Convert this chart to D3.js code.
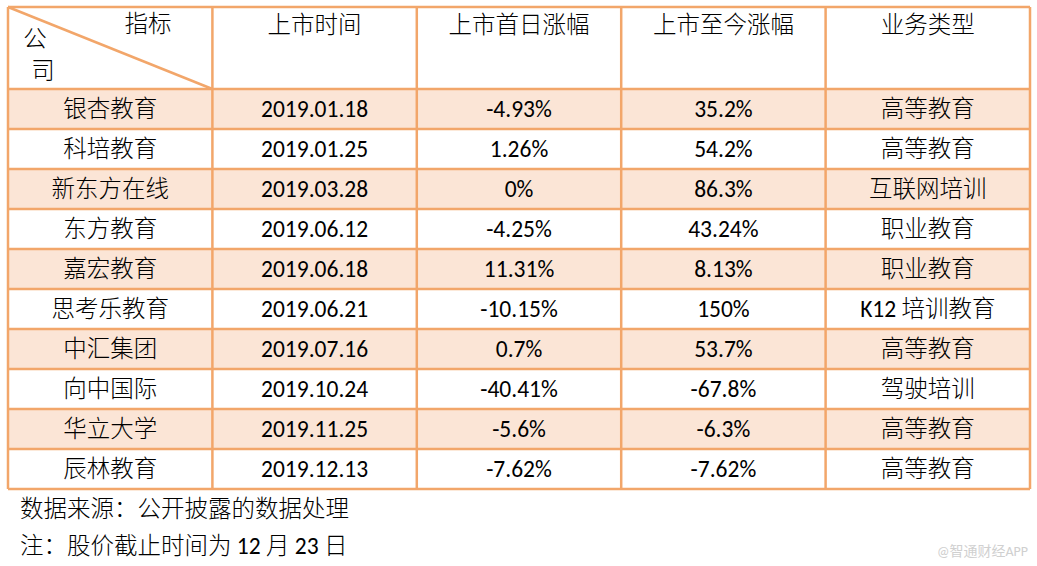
<!DOCTYPE html><html><head><meta charset="utf-8"><script src="https://cdn.jsdelivr.net/npm/d3@7"></script>
<style>body{margin:0;background:#fff}</style></head><body><svg id="c" width="1037" height="566"></svg><script>
const headers=["上市时间","上市首日涨幅","上市至今涨幅","业务类型"];
const companies=["银杏教育","科培教育","新东方在线","东方教育","嘉宏教育","思考乐教育","中汇集团","向中国际","华立大学","辰林教育"];
const dates=["2019.01.18","2019.01.25","2019.03.28","2019.06.12","2019.06.18","2019.06.21","2019.07.16","2019.10.24","2019.11.25","2019.12.13"];
const firstDay=["-4.93%","1.26%","0%","-4.25%","11.31%","-10.15%","0.7%","-40.41%","-5.6%","-7.62%"];
const toDate=["35.2%","54.2%","86.3%","43.24%","8.13%","150%","53.7%","-67.8%","-6.3%","-7.62%"];
const business=["高等教育","高等教育","互联网培训","职业教育","职业教育","K12 培训教育","高等教育","驾驶培训","高等教育","高等教育"];
const notes=["数据来源：公开披露的数据处理","注：股价截止时间为 12 月 23 日"];
const svg=d3.select("#c");
const font="Carlito, 'Noto Sans CJK SC', sans-serif";
const x=d3.scaleLinear().domain([0,5]).range([8,1030]);
const y=d3.scaleLinear().domain([0,10]).range([89,489]);
const border="#f2a66a";
const rows=companies.map((c,i)=>[c,dates[i],firstDay[i],toDate[i],business[i]]);
svg.selectAll("rect.r").data(rows).join("rect").attr("x",x(0)).attr("width",x(5)-x(0))
 .attr("y",(d,i)=>y(i)).attr("height",y(1)-y(0)).attr("fill",(d,i)=>i%2==0?"#fbe5d6":"#fff");
const g=svg.append("g").attr("font-family",font).attr("font-size",23.5).attr("font-weight",300).attr("fill","#000").attr("text-anchor","middle");
rows.forEach((r,i)=>r.forEach((v,j)=>g.append("text").attr("x",(x(j)+x(j+1))/2).attr("y",y(i+0.5)+8).text(v)));
headers.forEach((h,j)=>g.append("text").attr("x",(x(j+1)+x(j+2))/2).attr("y",33).text(h));
g.append("text").attr("x",148).attr("y",32).text("指标");
g.append("text").attr("x",35).attr("y",47).text("公");
g.append("text").attr("x",43).attr("y",79).text("司");
const L=svg.append("g").attr("stroke",border).attr("stroke-width",2.5);
L.append("line").attr("x1",x(0)).attr("y1",7).attr("x2",x(1)).attr("y2",y(0));
d3.range(0,6).forEach(j=>L.append("line").attr("x1",x(j)).attr("x2",x(j)).attr("y1",7).attr("y2",y(10)));
L.append("line").attr("x1",x(0)).attr("x2",x(5)).attr("y1",7).attr("y2",7);
d3.range(0,11).forEach(i=>L.append("line").attr("x1",x(0)).attr("x2",x(5)).attr("y1",y(i)).attr("y2",y(i)));
notes.forEach((n,i)=>svg.append("text").attr("x",20).attr("y",517+i*37).attr("font-family",font).attr("font-weight",300).attr("font-size",23.5).text(n));
svg.append("text").attr("x",1028).attr("y",556).attr("text-anchor","end").attr("font-family",font).attr("font-size",14).attr("fill","#d0d0d0").text("@智通财经APP");
</script></body></html>
